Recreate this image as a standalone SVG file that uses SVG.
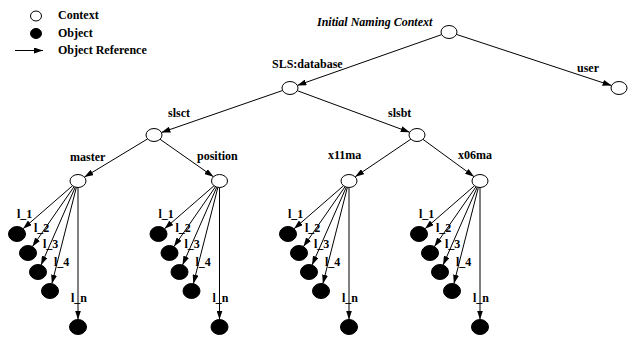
<svg xmlns="http://www.w3.org/2000/svg" width="629" height="337" viewBox="0 0 629 337">
<style>
text{font-family:"Liberation Serif","Times New Roman",serif;font-weight:bold;font-size:12px;fill:#000}
.it{font-style:italic}
.ctx{fill:#fff;stroke:#000;stroke-width:1}
.obj{fill:#000;stroke:#000;stroke-width:1}
.edge{stroke:#000;stroke-width:1;fill:none;marker-end:url(#ah)}
</style>
<defs>
<marker id="ah" markerUnits="userSpaceOnUse" markerWidth="10" markerHeight="6" refX="9" refY="3" orient="auto"><path d="M0,0 L9,3 L0,6 z" fill="#000"/></marker>
</defs>
<rect width="629" height="337" fill="#fff"/>
<g id="legend">
<ellipse class="ctx" cx="36" cy="16" rx="5.5" ry="5"/>
<text x="58" y="19">Context</text>
<ellipse class="obj" cx="36" cy="33.5" rx="5.5" ry="5"/>
<text x="58" y="37">Object</text>
<line class="edge" x1="15" y1="50.5" x2="43" y2="50.5"/>
<text x="58" y="54">Object Reference</text>
</g>
<g id="connectors">
<line class="edge" x1="441.7" y1="34.6" x2="297.3" y2="85.4"/>
<line class="edge" x1="456.4" y1="34.4" x2="611.6" y2="85.6"/>
<line class="edge" x1="282.6" y1="90.5" x2="161.4" y2="132.5"/>
<line class="edge" x1="297.3" y1="90.7" x2="409.7" y2="132.3"/>
<line class="edge" x1="147.6" y1="138.9" x2="84.4" y2="177.1"/>
<line class="edge" x1="160.05" y1="139.25" x2="213.45" y2="176.75"/>
<line class="edge" x1="410.85" y1="139.16" x2="355.15" y2="176.84"/>
<line class="edge" x1="422.95" y1="139.34" x2="474.05" y2="176.66"/>
<line class="edge" x1="72.54" y1="185.75" x2="23.05" y2="228.74"/>
<line class="edge" x1="74.07" y1="186.66" x2="32.44" y2="246.6"/>
<line class="edge" x1="75.31" y1="187.12" x2="41.07" y2="265.01"/>
<line class="edge" x1="76.38" y1="187.37" x2="51.86" y2="283.68"/>
<line class="edge" x1="78" y1="187.5" x2="78" y2="319.5"/>
<line class="edge" x1="214.04" y1="185.75" x2="164.55" y2="228.74"/>
<line class="edge" x1="215.57" y1="186.66" x2="173.94" y2="246.6"/>
<line class="edge" x1="216.81" y1="187.12" x2="182.57" y2="265.01"/>
<line class="edge" x1="217.88" y1="187.37" x2="193.36" y2="283.68"/>
<line class="edge" x1="219.5" y1="187.5" x2="219.5" y2="319.5"/>
<line class="edge" x1="343.54" y1="185.75" x2="294.05" y2="228.74"/>
<line class="edge" x1="345.07" y1="186.66" x2="303.44" y2="246.6"/>
<line class="edge" x1="346.31" y1="187.12" x2="312.07" y2="265.01"/>
<line class="edge" x1="347.38" y1="187.37" x2="322.86" y2="283.68"/>
<line class="edge" x1="349" y1="187.5" x2="349" y2="319.5"/>
<line class="edge" x1="474.54" y1="185.75" x2="425.05" y2="228.74"/>
<line class="edge" x1="476.07" y1="186.66" x2="434.44" y2="246.6"/>
<line class="edge" x1="477.31" y1="187.12" x2="443.07" y2="265.01"/>
<line class="edge" x1="478.38" y1="187.37" x2="453.86" y2="283.68"/>
<line class="edge" x1="480" y1="187.5" x2="480" y2="319.5"/>
</g>
<g id="root"><ellipse class="ctx" cx="449" cy="32" rx="8" ry="6.5"/><text class="it" x="317" y="26">Initial Naming Context</text></g>
<g id="database"><ellipse class="ctx" cx="290" cy="88" rx="8" ry="6.5"/><text x="272" y="68">SLS:database</text></g>
<g id="user"><ellipse class="ctx" cx="619" cy="88" rx="8" ry="6.5"/><text x="577" y="72">user</text></g>
<g id="slsct"><ellipse class="ctx" cx="154" cy="135" rx="8" ry="6.5"/><text x="168" y="117">slsct</text></g>
<g id="slsbt"><ellipse class="ctx" cx="417" cy="135" rx="8" ry="6.5"/><text x="388" y="117">slsbt</text></g>
<g id="master"><ellipse class="ctx" cx="78" cy="181" rx="8" ry="6.5"/><text x="70" y="161">master</text></g>
<g id="position"><ellipse class="ctx" cx="219.5" cy="181" rx="8" ry="6.5"/><text x="197" y="160">position</text></g>
<g id="x11ma"><ellipse class="ctx" cx="349" cy="181" rx="8" ry="6.5"/><text x="328" y="159">x11ma</text></g>
<g id="x06ma"><ellipse class="ctx" cx="480" cy="181" rx="8" ry="6.5"/><text x="458" y="159">x06ma</text></g>
<g id="master-l1"><ellipse class="obj" cx="17" cy="234" rx="8.5" ry="7.5"/><text x="17" y="218">l_1</text></g>
<g id="master-l2"><ellipse class="obj" cx="28" cy="253" rx="8.5" ry="7.5"/><text x="34" y="232">l_2</text></g>
<g id="master-l3"><ellipse class="obj" cx="38" cy="272" rx="8.5" ry="7.5"/><text x="43" y="248">l_3</text></g>
<g id="master-l4"><ellipse class="obj" cx="50" cy="291" rx="8.5" ry="7.5"/><text x="54" y="266">l_4</text></g>
<g id="master-ln"><ellipse class="obj" cx="78" cy="327" rx="8.5" ry="7.5"/><text x="71" y="302">l_n</text></g>
<g id="position-l1"><ellipse class="obj" cx="158.5" cy="234" rx="8.5" ry="7.5"/><text x="158.5" y="218">l_1</text></g>
<g id="position-l2"><ellipse class="obj" cx="169.5" cy="253" rx="8.5" ry="7.5"/><text x="175.5" y="232">l_2</text></g>
<g id="position-l3"><ellipse class="obj" cx="179.5" cy="272" rx="8.5" ry="7.5"/><text x="184.5" y="248">l_3</text></g>
<g id="position-l4"><ellipse class="obj" cx="191.5" cy="291" rx="8.5" ry="7.5"/><text x="195.5" y="266">l_4</text></g>
<g id="position-ln"><ellipse class="obj" cx="219.5" cy="327" rx="8.5" ry="7.5"/><text x="212.5" y="302">l_n</text></g>
<g id="x11ma-l1"><ellipse class="obj" cx="288" cy="234" rx="8.5" ry="7.5"/><text x="288" y="218">l_1</text></g>
<g id="x11ma-l2"><ellipse class="obj" cx="299" cy="253" rx="8.5" ry="7.5"/><text x="305" y="232">l_2</text></g>
<g id="x11ma-l3"><ellipse class="obj" cx="309" cy="272" rx="8.5" ry="7.5"/><text x="314" y="248">l_3</text></g>
<g id="x11ma-l4"><ellipse class="obj" cx="321" cy="291" rx="8.5" ry="7.5"/><text x="325" y="266">l_4</text></g>
<g id="x11ma-ln"><ellipse class="obj" cx="349" cy="327" rx="8.5" ry="7.5"/><text x="342" y="302">l_n</text></g>
<g id="x06ma-l1"><ellipse class="obj" cx="419" cy="234" rx="8.5" ry="7.5"/><text x="419" y="218">l_1</text></g>
<g id="x06ma-l2"><ellipse class="obj" cx="430" cy="253" rx="8.5" ry="7.5"/><text x="436" y="232">l_2</text></g>
<g id="x06ma-l3"><ellipse class="obj" cx="440" cy="272" rx="8.5" ry="7.5"/><text x="445" y="248">l_3</text></g>
<g id="x06ma-l4"><ellipse class="obj" cx="452" cy="291" rx="8.5" ry="7.5"/><text x="456" y="266">l_4</text></g>
<g id="x06ma-ln"><ellipse class="obj" cx="480" cy="327" rx="8.5" ry="7.5"/><text x="473" y="302">l_n</text></g>
</svg>
